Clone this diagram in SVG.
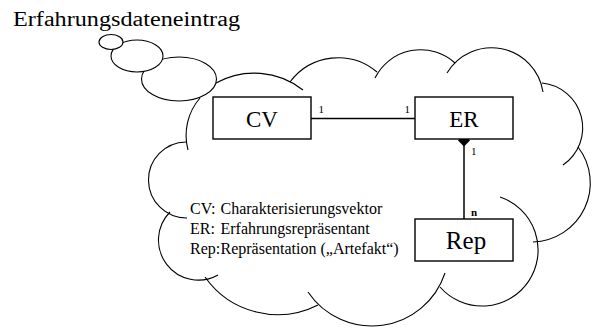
<svg xmlns="http://www.w3.org/2000/svg" width="599" height="329" viewBox="0 0 599 329">
  <style>
    .cloud { fill: none; stroke: #000; stroke-width: 1.1; }
    .bubble { fill: #fff; stroke: #000; stroke-width: 1.1; }
    .box { fill: #fff; stroke: #000; stroke-width: 1.4; }
    .link { fill: none; stroke: #000; stroke-width: 1.5; }
    .serif { font-family: "Liberation Serif", "Times New Roman", serif; fill: #000; }
    .title { font-size: 20px; }
    .label { font-size: 23px; text-anchor: middle; }
    .label.big { font-size: 25px; }
    .mult { font-size: 11px; }
    .legend { font-size: 16px; }
  </style>

  <text class="serif title" x="13" y="26" textLength="227" lengthAdjust="spacingAndGlyphs">Erfahrungsdateneintrag</text>

  <!-- cloud outline built from overlapping arcs -->
  <g id="cloud">
    <path class="cloud" d="M 188 150 A 57 57 0 0 1 200 98"/>
    <path class="cloud" d="M 187 218 A 38 38 0 1 1 186 142"/>
    <path class="cloud" d="M 218 275 A 40 40 0 0 1 170 212"/>
    <path class="cloud" d="M 318 305 A 89 89 0 0 1 205 277"/>
    <path class="cloud" d="M 445 273 A 77 77 0 0 1 308 292"/>
    <path class="cloud" d="M 500 197 A 56 56 0 1 1 440 287"/>
    <path class="cloud" d="M 578 147 A 59 59 0 0 1 533 242"/>
    <path class="cloud" d="M 542 83 A 45 45 0 0 1 563 165"/>
    <path class="cloud" d="M 447 73 A 52 52 0 0 1 543 92"/>
    <path class="cloud" d="M 375 78 A 51 51 0 0 1 455 63"/>
    <path class="cloud" d="M 290 82 A 60 60 0 0 1 377 72"/>
    <path class="cloud" d="M 216 83 A 79 79 0 0 1 303 90"/>
  </g>

  <!-- thought bubbles -->
  <g id="bubbles">
    <ellipse class="bubble" cx="179" cy="79" rx="37.5" ry="22"/>
    <ellipse class="bubble" cx="137" cy="56" rx="26" ry="16"/>
    <ellipse class="bubble" cx="111" cy="42" rx="12" ry="7.5"/>
  </g>

  <g id="connectors">
    <line class="link" x1="311" y1="118.5" x2="415" y2="118.5"/>
    <line class="link" x1="464" y1="140" x2="464" y2="219"/>
    <polygon points="464,134.5 470,140.5 464,146.5 458,140.5" fill="#000"/>
    <text class="serif mult" x="318.5" y="113">1</text>
    <text class="serif mult" x="404.5" y="113">1</text>
    <text class="serif mult" x="471" y="155">1</text>
    <text class="serif mult" x="471" y="216" font-weight="bold">n</text>
  </g>

  <g id="node-cv">
    <rect class="box" x="213" y="97" width="98" height="42"/>
    <text class="serif label" x="262" y="127">CV</text>
  </g>
  <g id="node-er">
    <rect class="box" x="415" y="97" width="98" height="42"/>
    <text class="serif label" x="464" y="127">ER</text>
  </g>
  <g id="node-rep">
    <rect class="box" x="415" y="219" width="98" height="42"/>
    <text class="serif label big" x="466" y="248.5">Rep</text>
  </g>

  <g id="legend">
    <text class="serif legend" x="190" y="213.5">CV:</text>
    <text class="serif legend" x="220.5" y="213.5">Charakterisierungsvektor</text>
    <text class="serif legend" x="190" y="234">ER:</text>
    <text class="serif legend" x="220.5" y="234">Erfahrungsrepräsentant</text>
    <text class="serif legend" x="190" y="254">Rep:</text>
    <text class="serif legend" x="220.5" y="254">Repräsentation („Artefakt“)</text>
  </g>
</svg>
